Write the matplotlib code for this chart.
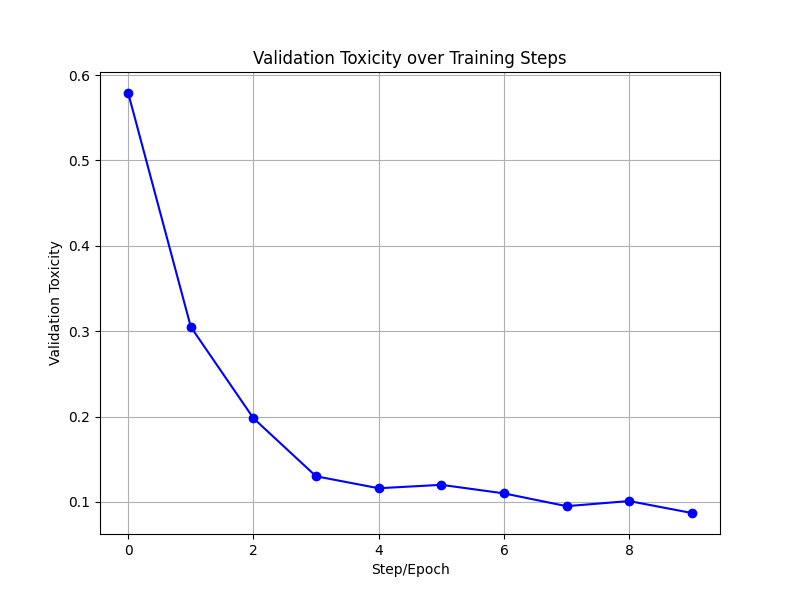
import matplotlib
matplotlib.use('Agg')
import matplotlib.pyplot as plt

steps = [0, 1, 2, 3, 4, 5, 6, 7, 8, 9]
val_toxicity = [0.579, 0.305, 0.198, 0.130, 0.116, 0.120, 0.110, 0.095, 0.101, 0.087]

plt.figure(figsize=(8, 6))
plt.plot(steps, val_toxicity, marker='o', color='blue')
plt.xlabel('Step/Epoch')
plt.ylabel('Validation Toxicity')
plt.title('Validation Toxicity over Training Steps')
plt.grid(True)
plt.savefig('out.png', dpi=100)
